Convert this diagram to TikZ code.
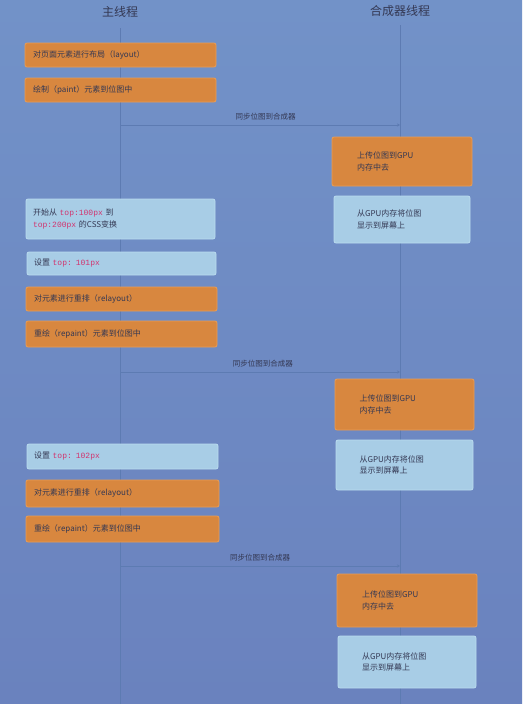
\documentclass[tikz,border=0pt]{standalone}
\usepackage{fontspec}
\setmainfont{Noto Sans CJK SC}
\setmonofont{Liberation Mono}
\usepackage{tikz}
\usetikzlibrary{positioning,calc,arrows.meta}

\definecolor{slidetop}{HTML}{7292C8}
\definecolor{slidebot}{HTML}{6A82BE}
\definecolor{laneline}{HTML}{5D7BB2}
\definecolor{orangefill}{HTML}{D8873F}
\definecolor{orangeedge}{HTML}{E99D55}
\definecolor{paleblue}{HTML}{A8CDE6}
\definecolor{paleedge}{HTML}{BBDCEF}
\definecolor{inktext}{HTML}{343853}
\definecolor{codered}{HTML}{D2336E}

\newcommand{\code}[1]{{\ttfamily\color{codered}#1}}

\tikzset{
  taskbox/.style={draw, line width=0.8pt, rounded corners=2pt, align=left,
    inner sep=0pt, text=inktext, font=\fontsize{8}{11.5}\selectfont},
  orangebox/.style={taskbox, fill=orangefill, draw=orangeedge},
  palebox/.style={taskbox, fill=paleblue, draw=paleedge},
  lanetitle/.style={text=inktext, font=\fontsize{12}{14}\selectfont},
  lane/.style={laneline, line width=0.6pt},
  syncline/.style={laneline, line width=0.6pt, -{Stealth[length=3pt,width=3pt]}},
  synclabel/.style={text=inktext, font=\fontsize{7.5}{9}\selectfont, above=1pt}
}

\begin{document}
\begin{tikzpicture}[x=1pt, y=-1pt]
    % slide background
    \shade[top color=slidetop, bottom color=slidebot] (0,0) rectangle (522,704);
    \useasboundingbox (0,0) rectangle (522,704);

    % lane titles and lane lines
    \node[lanetitle] (mainTitle) at (120,12) {主线程};
    \node[lanetitle] (compTitle) at (400,11) {合成器线程};
    \coordinate (mainTop) at (120,28);
    \coordinate (mainBot) at (120,704);
    \coordinate (compTop) at (400,25);
    \coordinate (compBot) at (400,704);
    \draw[lane] (mainTop) -- (mainBot);
    \draw[lane] (compTop) -- (compBot);

    % sync points between the threads
    \coordinate (syncAmain) at (120,125);
    \coordinate (syncAcomp) at (400,125);
    \coordinate (syncBmain) at (120,372);
    \coordinate (syncBcomp) at (400,372);
    \coordinate (syncCmain) at (120,566);
    \coordinate (syncCcomp) at (400,566);
    \draw[syncline] (syncAmain) -- (syncAcomp) node[synclabel, pos=0.52] {同步位图到合成器};
    \draw[syncline] (syncBmain) -- (syncBcomp) node[synclabel, pos=0.51] {同步位图到合成器};
    \draw[syncline] (syncCmain) -- (syncCcomp) node[synclabel, pos=0.50] {同步位图到合成器};

    % main thread, first frame
    \node[orangebox, minimum width=191, minimum height=24, text width=175] (layout) at (120.5,55) {对页面元素进行布局（layout）};
    \node[orangebox, minimum width=191, minimum height=24, text width=175] (paint) at (120.5,90) {绘制（paint）元素到位图中};

    % compositor, first frame
    \node[orangebox, minimum width=140, minimum height=49, text width=90] (uploadA) at (402,161.5) {上传位图到GPU\\内存中去};
    \node[palebox, minimum width=136, minimum height=47, text width=90] (showA) at (402,219.5) {从GPU内存将位图\\显示到屏幕上};

    % main thread, transition starts
    \node[palebox, minimum width=189, minimum height=40, text width=175] (start) at (120.5,219) {开始从 \code{top:100px} 到\\\code{top:200px} 的CSS变换};
    \node[palebox, minimum width=189, minimum height=23, text width=175] (setA) at (121.5,263.5) {设置 \code{top: 101px}};
    \node[orangebox, minimum width=191, minimum height=24, text width=175] (relayoutA) at (121.5,299) {对元素进行重排（relayout）};
    \node[orangebox, minimum width=191, minimum height=26, text width=175] (repaintA) at (121.5,334) {重绘（repaint）元素到位图中};

    % compositor, second frame
    \node[orangebox, minimum width=139, minimum height=51, text width=90] (uploadB) at (404.5,404.5) {上传位图到GPU\\内存中去};
    \node[palebox, minimum width=137, minimum height=50, text width=90] (showB) at (404.5,465) {从GPU内存将位图\\显示到屏幕上};

    % main thread, next step
    \node[palebox, minimum width=191, minimum height=25, text width=177] (setB) at (122.5,456.5) {设置 \code{top: 102px}};
    \node[orangebox, minimum width=193, minimum height=27, text width=177] (relayoutB) at (122.5,493.5) {对元素进行重排（relayout）};
    \node[orangebox, minimum width=193, minimum height=26, text width=177] (repaintB) at (122.5,529) {重绘（repaint）元素到位图中};

    % compositor, third frame
    \node[orangebox, minimum width=140, minimum height=53, text width=90] (uploadC) at (407,600.5) {上传位图到GPU\\内存中去};
    \node[palebox, minimum width=138, minimum height=52, text width=90] (showC) at (407,662) {从GPU内存将位图\\显示到屏幕上};
\end{tikzpicture}
\end{document}
